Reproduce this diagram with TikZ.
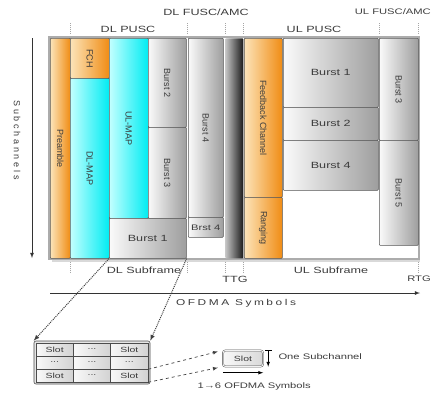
\documentclass[tikz,border=0pt]{standalone}
\usepackage{fontspec}
\newfontfamily\hfont{Liberation Sans}[FakeStretch=1.4]
\newfontfamily\vfont{Liberation Sans}
\newfontfamily\hspfont{Liberation Sans}[FakeStretch=1.4,LetterSpace=30]
\newfontfamily\vspfont{Liberation Sans}[LetterSpace=30]
\definecolor{orgD}{RGB}{240,140,20}
\definecolor{orgL}{RGB}{252,228,185}
\definecolor{cyD}{RGB}{0,236,242}
\definecolor{cyL}{RGB}{195,255,255}
\definecolor{gyD}{RGB}{158,158,158}
\definecolor{gyL}{RGB}{250,250,250}
\definecolor{edge}{RGB}{85,85,85}
\definecolor{txt}{RGB}{60,60,60}
\tikzset{
  blk/.style={draw=edge, line width=0.6pt, inner sep=0pt, anchor=north west, rounded corners=0.8pt},
  org/.style={blk, left color=orgL, right color=orgD},
  cyn/.style={blk, left color=cyL, middle color=cyD, right color=cyD},
  gry/.style={blk, left color=gyL, right color=gyD},
  drk/.style={blk, draw=none, left color=gray!45, middle color=gray!60!black, right color=black!90},
  vlab/.style={rotate=-90, text=txt, font=\vfont\fontsize{9}{10}\selectfont},
  hlab/.style={text=txt, font=\hfont\fontsize{9}{10}\selectfont},
  slab/.style={text=txt, font=\hfont\fontsize{8}{9}\selectfont},
  tickln/.style={densely dotted, gray!70, line width=0.9pt},
  axarr/.style={->, gray!40!black, line width=0.8pt},
  dotarr/.style={->, densely dotted, gray!50!black, line width=1pt},
  dsharr/.style={->, dashed, gray!50!black, line width=0.7pt, shorten >=5pt},
  cell/.style={draw=gray!60!black, line width=0.5pt, left color=gray!5, right color=gray!35,
    minimum width=37.3, minimum height=13, inner sep=0pt, text=txt, font=\hfont\fontsize{7.5}{8}\selectfont}
}
% block: name, style, x1, y1, x2, y2
\newcommand{\blk}[6]{\node[#2, minimum width={#5-#3}, minimum height={#6-#4}] (#1) at (#3,#4) {};}
\newcommand{\gdots}{...}
\begin{document}
\begin{tikzpicture}[x=1pt, y=-1pt, >=latex]
    \useasboundingbox (0,0) rectangle (432,392);
    \clip (0,0) rectangle (432,392);

    % 1. Khung
    \draw[gray!30, line width=2pt] (52,261) -- (420,261);
    \draw[gray!65, line width=1.2pt] (49,37) rectangle (419,259);

    % 2. DL subframe
    \blk{pre}{org}{50}{38}{70}{258}
    \blk{fch}{org}{70}{38}{109}{78}
    \blk{dlmap}{cyn}{70}{78}{109}{258}
    \blk{ulmap}{cyn}{109}{38}{148}{218}
    \blk{db2}{gry}{148}{38}{186}{127}
    \blk{db3}{gry}{148}{127}{186}{218}
    \blk{db1}{gry}{109}{218}{186}{258}
    \blk{db4}{gry}{188}{38}{223}{217}
    \blk{dbs4}{gry}{188}{217}{223}{237}
    \blk{gap}{drk}{225}{38}{243}{258}

    \node[vlab] (tpre) at (pre) {Preamble};
    \node[vlab] (tfch) at (fch) {FCH};
    \node[vlab] (tdlmap) at (dlmap) {DL-MAP};
    \node[vlab] (tulmap) at (ulmap) {UL-MAP};
    \node[vlab] (tdb2) at (db2) {Burst 2};
    \node[vlab] (tdb3) at (db3) {Burst 3};
    \node[vlab] (tdb4) at (db4) {Burst 4};
    \node[hlab] (tdb1) at (db1) {Burst 1};
    \node[slab] (tdbs4) at (dbs4) {Brst 4};

    % 3. UL subframe
    \blk{fb}{org}{244}{38}{282}{197}
    \blk{rng}{org}{244}{197}{282}{258}
    \blk{ub1}{gry}{283}{38}{378}{107}
    \blk{ub2}{gry}{283}{107}{378}{140}
    \blk{ub4}{gry}{283}{140}{378}{190}
    \blk{ub3}{gry}{379}{38}{418}{140}
    \blk{ub5}{gry}{379}{140}{418}{245}

    \node[vlab] (tfb) at (fb) {Feedback Channel};
    \node[vlab] (trng) at (rng) {Ranging};
    \node[hlab] (tub1) at (ub1) {Burst 1};
    \node[hlab] (tub2) at (ub2) {Burst 2};
    \node[hlab] (tub4) at (ub4) {Burst 4};
    \node[vlab] (tub3) at (ub3) {Burst 3};
    \node[vlab] (tub5) at (ub5) {Burst 5};

    % 4. Vạch chia và nhãn vùng
    \foreach \x in {70,187,225,243,379,418} \draw[tickln] (\x,23) -- (\x,34);
    \foreach \x in {70,187,225,243,418} \draw[tickln] (\x,262) -- (\x,273);
    \node[hlab] (dlpusc) at (128,29) {DL PUSC};
    \node[hlab] (dlfusc) at (206,12) {DL FUSC/AMC};
    \node[hlab] (ulpusc) at (314,29) {UL PUSC};
    \node[slab, anchor=east, inner xsep=1pt] (ulfusc) at (432,12) {UL FUSC/AMC};
    \node[hlab] (dlsub) at (144,270) {DL Subframe};
    \node[hlab] (ttg) at (235,279) {TTG};
    \node[hlab] (ulsub) at (331,270) {UL Subframe};
    \node[slab, anchor=east, inner xsep=1pt] (rtg) at (432,279) {RTG};

    % 5. Trục
    \coordinate (xs) at (50,293);
    \coordinate (xe) at (420,293);
    \draw[axarr] (xs) -- (xe);
    \node[text=txt, font=\hspfont\fontsize{8.5}{9}\selectfont] (ofdma) at (236,303) {OFDMA Symbols};
    \coordinate (ys) at (32,38);
    \coordinate (ye) at (32,258);
    \draw[axarr] (ys) -- (ye);
    \node[rotate=-90, text=txt, font=\vspfont\fontsize{9}{10}\selectfont] (subch) at (17,140) {Subchannels};

    % 6. Lưới slot
    \node[draw=gray!60!black, fill=gray!20, rounded corners=2pt, line width=0.6pt,
      minimum width=116, minimum height=43, inner sep=0pt] (grid) at (92,362.5) {};
    \foreach \r/\c/\t in {1/1/Slot,1/2/\gdots,1/3/Slot,2/1/\gdots,2/2/\gdots,2/3/\gdots,3/1/Slot,3/2/\gdots,3/3/Slot}
      \node[cell] (s\r\c) at ({36+37.33*(\c-0.5)}, {343+13*(\r-0.5)}) {\t};
    \draw[dotarr] (db1.south west) -- (grid.north west);
    \draw[dotarr] (db1.south east) -- (grid.north east);

    % 7. Một slot
    \node[draw=gray!60!black, double=gray!10, double distance=1pt, rounded corners=2.5pt,
      left color=gray!5, right color=gray!30, minimum width=40, minimum height=16,
      inner sep=0pt, text=txt, font=\hfont\fontsize{7.5}{8}\selectfont] (slot) at (243,358.5) {Slot};
    \draw[dsharr] (s23.south east) -- (slot.north west);
    \draw[dsharr] (s33.south east) -- (slot.south west);
    \draw[|->, black, line width=0.7pt] ([xshift=5pt]slot.north east) -- ([xshift=5pt]slot.south east);
    \draw[->, black, line width=0.7pt] ([yshift=-6pt]slot.south west) -- ([yshift=-6pt]slot.south east);
    \node[slab, anchor=west] (onesub) at (275,357) {One Subchannel};
    \node[slab, anchor=west] (sym) at (194,386) {1→6 OFDMA Symbols};
\end{tikzpicture}
\end{document}
